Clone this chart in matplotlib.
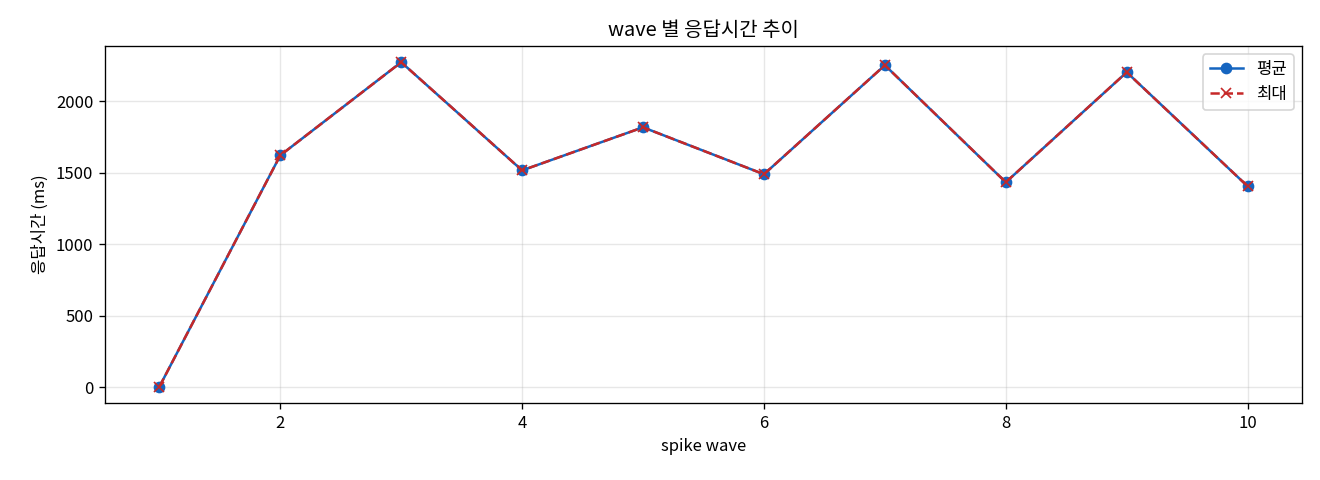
import matplotlib
matplotlib.use("Agg")
import matplotlib.pyplot as plt

plt.rcParams['font.family'] = ['Noto Sans CJK KR', 'DejaVu Sans']
plt.rcParams['axes.unicode_minus'] = False

waves = [1, 2, 3, 4, 5, 6, 7, 8, 9, 10]
avg_ms = [5, 1622, 2273, 1517, 1818, 1490, 2252, 1434, 2203, 1406]
max_ms = [5, 1622, 2273, 1517, 1818, 1490, 2252, 1434, 2203, 1406]

fig, ax = plt.subplots(figsize=(11, 4), dpi=120)
ax.plot(waves, avg_ms, marker='o', color='#1565C0', label='평균', linewidth=1.5, markersize=6)
ax.plot(waves, max_ms, marker='x', linestyle='--', color='#C62828', label='최대', linewidth=1.5, markersize=6)
ax.set_title('wave 별 응답시간 추이')
ax.set_xlabel('spike wave')
ax.set_ylabel('응답시간 (ms)')
ax.grid(True, alpha=0.3)
ax.legend(loc='upper right')
fig.subplots_adjust(left=0.0795, right=0.9864, top=0.9042, bottom=0.1604)
fig.savefig('out.png', dpi=120)
